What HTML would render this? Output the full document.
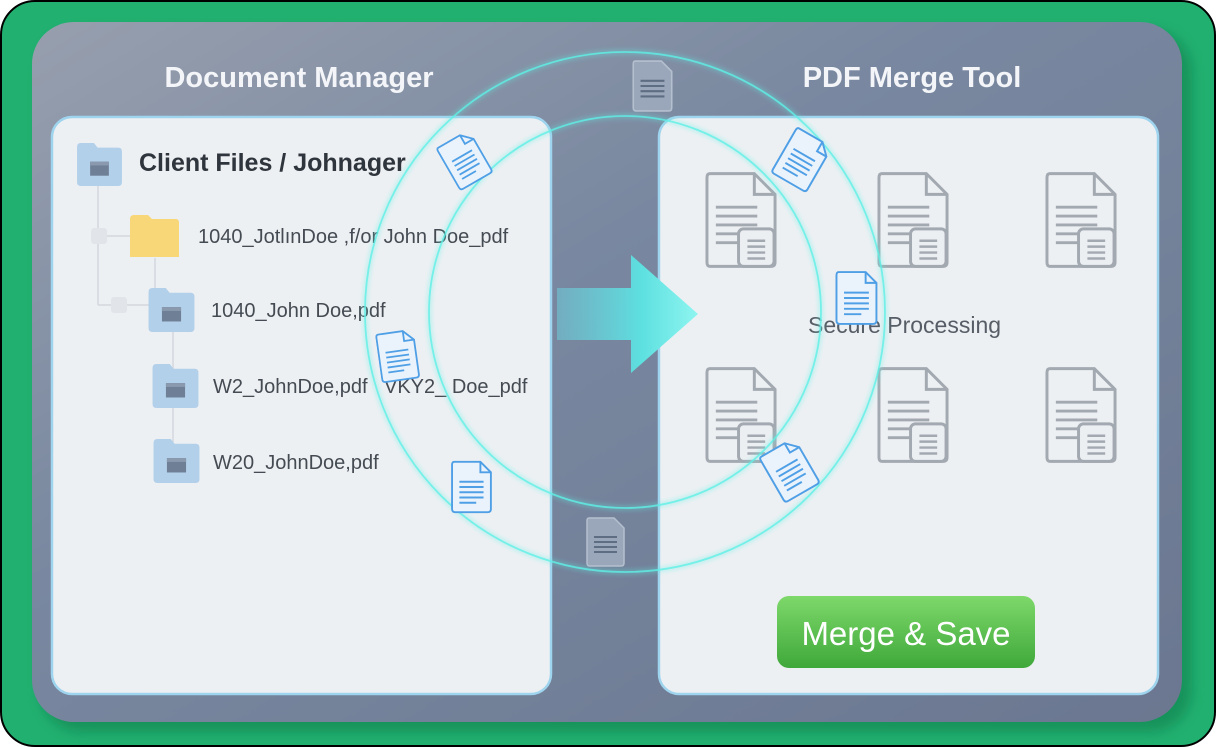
<!DOCTYPE html>
<html><head><meta charset="utf-8"><style>
html,body{margin:0;padding:0;width:1216px;height:747px;overflow:hidden;background:#fff}
svg{display:block}
text{font-family:"Liberation Sans",sans-serif}
</style></head><body>
<svg width="1216" height="747" viewBox="0 0 1216 747" xmlns="http://www.w3.org/2000/svg">
<defs>
<linearGradient id="bg" x1="0" y1="0" x2="1" y2="1">
<stop offset="0" stop-color="#979fae"/><stop offset="0.4" stop-color="#7988a0"/><stop offset="1" stop-color="#6b7790"/></linearGradient>
<linearGradient id="arr" x1="0" y1="0" x2="1" y2="0">
<stop offset="0" stop-color="#6fc6d6" stop-opacity="0.6"/><stop offset="0.6" stop-color="#5de0e0"/><stop offset="1" stop-color="#8ff5f0"/></linearGradient>
<linearGradient id="btn" x1="0" y1="0" x2="0" y2="1">
<stop offset="0" stop-color="#7ed86a"/><stop offset="1" stop-color="#3fa83a"/></linearGradient>
<filter id="glow" x="-20%" y="-20%" width="140%" height="140%"><feGaussianBlur stdDeviation="2.5"/></filter>
<filter id="sh" x="-10%" y="-10%" width="120%" height="120%"><feGaussianBlur stdDeviation="6"/></filter>
<symbol id="fold" viewBox="0 0 48 46">
<path d="M0 4 Q0 0 4 0 H18 L22 5 H44 Q48 5 48 9 V42 Q48 46 44 46 H4 Q0 46 0 42 Z" fill="#b3d0ea"/>
<rect x="14" y="20" width="20" height="15" fill="#6f7f95"/><rect x="14" y="20" width="20" height="4" fill="#8a99ad"/>
</symbol>
<symbol id="gdoc" viewBox="0 0 74 98">
<path d="M5 2 H50 L71 23 V92 Q71 96 67 96 H5 Q2 96 2 92 V6 Q2 2 5 2 Z" fill="none" stroke="#a3a9b1" stroke-width="3"/>
<path d="M50 2 V23 H71" fill="none" stroke="#a3a9b1" stroke-width="3"/>
<g stroke="#a3a9b1" stroke-width="3"><line x1="11" y1="36" x2="53" y2="36"/><line x1="11" y1="45" x2="53" y2="45"/><line x1="11" y1="54" x2="53" y2="54"/><line x1="11" y1="63" x2="53" y2="63"/><line x1="11" y1="72" x2="34" y2="72"/></g>
<rect x="34" y="58" width="36" height="38" rx="5" fill="#eceff2" stroke="#a3a9b1" stroke-width="3"/>
<g stroke="#a3a9b1" stroke-width="2.5"><line x1="43" y1="70" x2="61" y2="70"/><line x1="43" y1="76" x2="61" y2="76"/><line x1="43" y1="82" x2="61" y2="82"/><line x1="43" y1="88" x2="61" y2="88"/></g>
</symbol>
<symbol id="bdoc" viewBox="0 0 40 50">
<path d="M3 1 H28 L38 11 V46 Q38 49 35 49 H4 Q1 49 1 46 V4 Q1 1 3 1 Z" fill="#eaf3fb" stroke="#4f9fe6" stroke-width="1.8"/>
<path d="M28 1 V11 H38" fill="none" stroke="#4f9fe6" stroke-width="1.8"/>
<g stroke="#4f9fe6" stroke-width="1.8"><line x1="8" y1="20" x2="31" y2="20"/><line x1="8" y1="25" x2="31" y2="25"/><line x1="8" y1="30" x2="31" y2="30"/><line x1="8" y1="35" x2="31" y2="35"/><line x1="8" y1="40" x2="24" y2="40"/></g>
</symbol>
<symbol id="sdoc" viewBox="0 0 40 50">
<path d="M3 1 H28 L38 11 V46 Q38 49 35 49 H4 Q1 49 1 46 V4 Q1 1 3 1 Z" fill="#9aa7ba" stroke="#b5c0cf" stroke-width="1.5"/>
<g stroke="#5f6d82" stroke-width="2"><line x1="8" y1="20" x2="31" y2="20"/><line x1="8" y1="25" x2="31" y2="25"/><line x1="8" y1="30" x2="31" y2="30"/><line x1="8" y1="35" x2="31" y2="35"/></g>
</symbol>
</defs>
<rect x="1" y="1" width="1214" height="745" rx="34" fill="#22b070" stroke="#000" stroke-width="2"/>
<rect x="40" y="30" width="1152" height="702" rx="42" fill="#0e7a48" opacity="0.55" filter="url(#sh)"/>
<rect x="32" y="22" width="1150" height="700" rx="42" fill="url(#bg)"/>
<text x="299" y="87" text-anchor="middle" font-size="29" font-weight="bold" fill="#f3f5f8">Document Manager</text>
<text x="912" y="87" text-anchor="middle" font-size="29" font-weight="bold" fill="#f3f5f8">PDF Merge Tool</text>
<!-- cards -->
<rect x="52" y="117" width="499" height="577" rx="20" fill="#edf0f3" stroke="#9fd4ee" stroke-width="2.5"/>
<rect x="659" y="117" width="499" height="577" rx="20" fill="#edf0f3" stroke="#9fd4ee" stroke-width="2.5"/>
<!-- tree lines -->
<g stroke="#d3d8de" stroke-width="1.5" fill="none">
<line x1="98" y1="185" x2="98" y2="305"/><line x1="98" y1="236" x2="130" y2="236"/>
<line x1="98" y1="305" x2="150" y2="305"/><line x1="155" y1="258" x2="155" y2="290"/>
<line x1="173" y1="330" x2="173" y2="370"/><line x1="173" y1="406" x2="173" y2="442"/>
</g>
<rect x="91" y="228" width="16" height="16" rx="3" fill="#e1e5ea"/>
<rect x="111" y="297" width="16" height="16" rx="3" fill="#e1e5ea"/>
<use href="#fold" x="76" y="143" width="47" height="43"/>
<path d="M130 219 Q130 215 134 215 H148 L152 219 H176 Q179 219 179 223 V257 H130 Z" fill="#f8d779"/>
<use href="#fold" x="148" y="288" width="47" height="44"/>
<use href="#fold" x="152" y="364" width="47" height="44"/>
<use href="#fold" x="153" y="439" width="47" height="44"/>
<text x="139" y="171" font-size="25" font-weight="bold" fill="#2f353c">Client Files / Johnager</text>
<g font-size="20" fill="#454b53">
<text x="198" y="243">1040_JotlınDoe ,f/or John Doe_pdf</text>
<text x="211" y="317">1040_John Doe,pdf</text>
<text x="213" y="393">W2_JohnDoe,pdf</text>
<text x="384" y="393">VKY2_ Doe_pdf</text>
<text x="213" y="469">W20_JohnDoe,pdf</text>
</g>
<!-- right docs -->
<use href="#gdoc" x="705" y="171" width="73" height="98"/>
<use href="#gdoc" x="877" y="171" width="73" height="98"/>
<use href="#gdoc" x="1045" y="171" width="73" height="98"/>
<use href="#gdoc" x="705" y="366" width="73" height="98"/>
<use href="#gdoc" x="877" y="366" width="73" height="98"/>
<use href="#gdoc" x="1045" y="366" width="73" height="98"/>
<text x="808" y="333" font-size="23" fill="#565d66">Secure Processing</text>
<!-- arrow -->
<path d="M557 288 H631 V255 L698 314 L631 373 V340 H557 Z" fill="url(#arr)"/>
<!-- circles -->
<g fill="none" stroke="#5ff0e6">
<circle cx="625" cy="312" r="260" stroke-width="5" opacity="0.35" filter="url(#glow)"/>
<circle cx="625" cy="312" r="260" stroke-width="1.8" opacity="0.8"/>
<circle cx="625" cy="312" r="196" stroke-width="5" opacity="0.35" filter="url(#glow)"/>
<circle cx="625" cy="312" r="196" stroke-width="1.8" opacity="0.8"/>
</g>
<!-- floating docs -->
<use href="#bdoc" transform="translate(445 135) rotate(-30 20 25)" width="40" height="50"/>
<use href="#bdoc" transform="translate(378 330) rotate(-8 20 25)" width="40" height="52"/>
<use href="#bdoc" transform="translate(451 460)" width="42" height="54"/>
<use href="#bdoc" transform="translate(780 133) rotate(30 22 27)" width="44" height="54"/>
<use href="#bdoc" transform="translate(835 271)" width="44" height="54"/>
<use href="#bdoc" transform="translate(768 443) rotate(-30 22 27)" width="44" height="54"/>
<use href="#sdoc" x="632" y="60" width="42" height="52"/>
<use href="#sdoc" x="586" y="517" width="40" height="50"/>
<!-- button -->
<rect x="777" y="596" width="258" height="72" rx="12" fill="url(#btn)"/>
<text x="906" y="645" text-anchor="middle" font-size="33" fill="#fff">Merge &amp; Save</text>
</svg>
</body></html>
